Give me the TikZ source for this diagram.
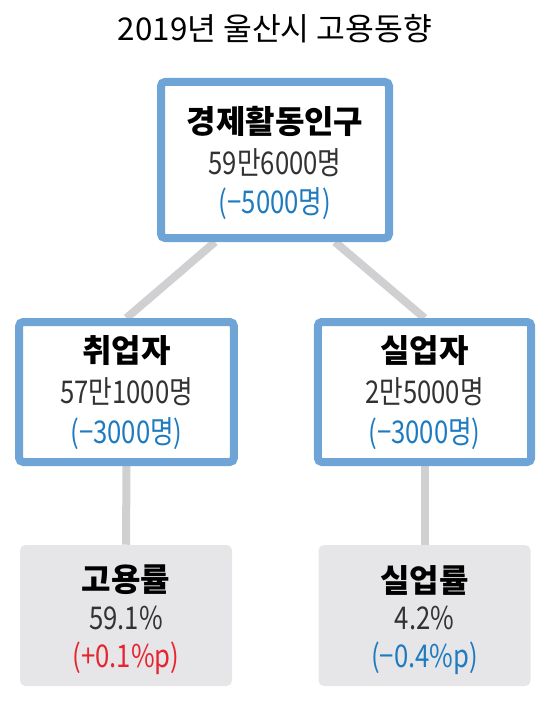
\documentclass[tikz,border=0pt]{standalone}
\usepackage{fontspec}
\setmainfont{Noto Sans CJK KR}
\newfontfamily\narrowfont[FakeStretch=0.82]{Noto Sans CJK KR}
\usetikzlibrary{backgrounds}
\definecolor{boxblue}{RGB}{111,164,214}
\definecolor{txtblue}{RGB}{30,123,192}
\definecolor{txtred}{RGB}{232,36,48}
\definecolor{linkgray}{RGB}{208,208,210}
\definecolor{rategray}{RGB}{230,230,232}
\definecolor{numgray}{RGB}{50,50,50}

\begin{document}
\begin{tikzpicture}[x=0.75pt,y=-0.75pt,
    popbox/.style={draw=boxblue, line width=6pt, fill=white, rounded corners=3pt},
    ratebox/.style={fill=rategray, rounded corners=4pt, minimum width=159pt, minimum height=105.75pt},
    head/.style={inner sep=0pt, font=\fontsize{24}{24}\selectfont\bfseries, text=black},
    num/.style={inner sep=0pt, font=\narrowfont\fontsize{23.5}{23.5}\selectfont, text=numgray},
    chg/.style={inner sep=0pt, font=\narrowfont\fontsize{23.5}{23.5}\selectfont, text=txtblue},
    link/.style={draw=linkgray, line width=6pt}]
  % page: 550 x 706 px, coordinates are pixels
  \useasboundingbox (0,0) rectangle (550,706);
  \node[font=\fontsize{23.5}{23.5}\selectfont, inner sep=0pt] (title) at (275,29) {2019년 울산시 고용동향};

  % population boxes
  \node[popbox, minimum width=171pt, minimum height=117pt] (pop) at (275,160) {};
  \node[popbox, minimum width=161pt, minimum height=105pt] (emp) at (126.5,392) {};
  \node[popbox, minimum width=160pt, minimum height=105pt] (unemp) at (424.5,392) {};

  % rate boxes
  \node[ratebox] (emprate) at (126,615.5) {};
  \node[ratebox] (unrate) at (424.5,615.5) {};

  % connectors behind the boxes
  \begin{pgfonlayer}{background}
    \draw[link] ([xshift=-45pt]pop.south) -- (emp.north);
    \draw[link] ([xshift=45pt]pop.south) -- (unemp.north);
    \draw[link] (emp.south) -- (emprate.north);
    \draw[link] (unemp.south) -- (unrate.north);
  \end{pgfonlayer}

  % texts
  \node[head] (popH) at (275,121) {경제활동인구};
  \node[num] (popN) at (275,163) {59만6000명};
  \node[chg] (popC) at (275,204) {(−5000명)};

  \node[head] (empH) at (126.5,351) {취업자};
  \node[num] (empN) at (126.5,392) {57만1000명};
  \node[chg] (empC) at (126.5,434) {(−3000명)};

  \node[head] (unempH) at (424.5,351) {실업자};
  \node[num] (unempN) at (424.5,392) {2만5000명};
  \node[chg] (unempC) at (424.5,434) {(−3000명)};

  \node[head] (emprateH) at (126,580) {고용률};
  \node[num] (emprateN) at (126,618) {59.1\%};
  \node[chg, text=txtred] (emprateC) at (126,658) {(+0.1\%p)};

  \node[head] (unrateH) at (424.5,580) {실업률};
  \node[num] (unrateN) at (424.5,618) {4.2\%};
  \node[chg] (unrateC) at (424.5,658) {(−0.4\%p)};
\end{tikzpicture}
\end{document}
